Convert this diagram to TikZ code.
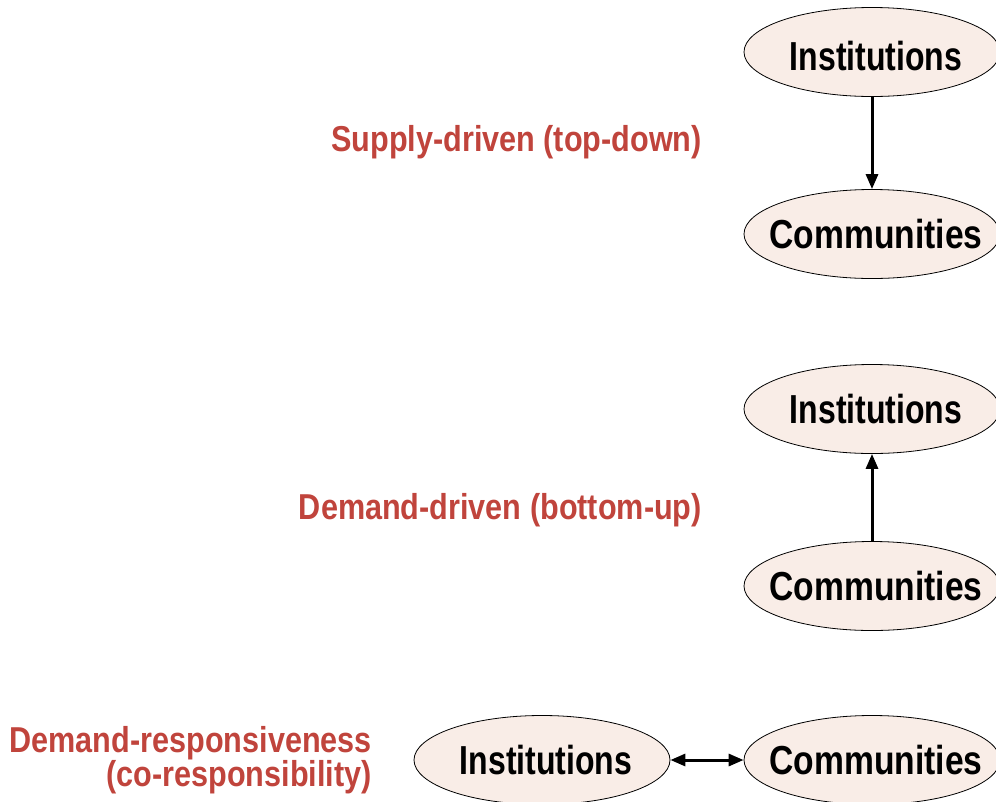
\documentclass[tikz,border=0pt]{standalone}
\usepackage{fontspec}
\setmainfont{Liberation Sans}[FakeStretch=0.79]
\newfontfamily\commfont{Liberation Sans}[FakeStretch=0.83]
\newfontfamily\redfont{Liberation Sans}[FakeStretch=0.85]
\usetikzlibrary{shapes.geometric,arrows.meta}
\definecolor{nodefill}{HTML}{F9EDE7}
\definecolor{labelred}{HTML}{C0443C}
\tikzset{
  blob/.style={ellipse,draw=black,line width=0.8pt,fill=nodefill,minimum width=256pt,minimum height=89pt,inner sep=0pt,font=\fontsize{40.5}{42}\selectfont\bfseries},
  commblob/.style={blob,font=\commfont\fontsize{40.5}{42}\selectfont\bfseries},
  lbl/.style={text=labelred,font=\redfont\fontsize{36}{31}\selectfont\bfseries,inner sep=0pt,anchor=east,align=right},
  link/.style={line width=3pt,-{Triangle[length=15pt,width=12pt]}},
  dlink/.style={line width=3pt,{Triangle[length=15pt,width=12pt]}-{Triangle[length=15pt,width=12pt]}}
}
\newcommand{\nodetext}[2][0pt]{\makebox[0pt]{\hspace{8pt}\raisebox{#1}[\height][\depth]{#2}}}
\begin{document}
\begin{tikzpicture}[x=1pt,y=-1pt]
\useasboundingbox (0,0) rectangle (996,801);
\begin{scope}
\clip (0,0) rectangle (996,801);
\node[blob] (i1) at (872,52) {\nodetext[-4pt]{Institutions}};
\node[commblob] (c1) at (872,234) {\nodetext{Communities}};
\node[blob] (i2) at (872,409) {\nodetext{Institutions}};
\node[commblob] (c2) at (872,586) {\nodetext{Communities}};
\node[blob] (i3) at (542,760) {\nodetext{Institutions}};
\node[commblob] (c3) at (872,760) {\nodetext{Communities}};
\draw[link] (i1) -- (c1);
\draw[link] (c2) -- (i2);
\draw[dlink] (i3) -- (c3);
\end{scope}
\node[lbl] (l1) at (702,142) {Supply-driven (top-down)};
\node[lbl] (l2) at (702,510) {Demand-driven (bottom-up)};
\node[lbl] (l3) at (372,760) {Demand-responsiveness\\(co-responsibility)};
\end{tikzpicture}
\end{document}
